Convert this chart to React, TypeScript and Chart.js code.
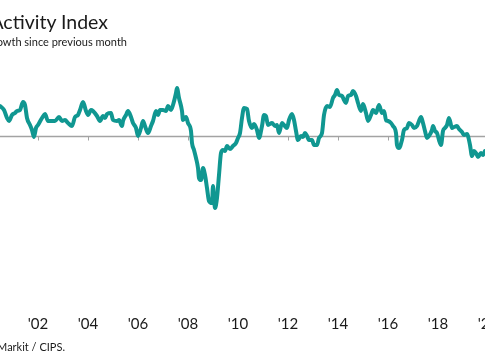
import React, { useEffect, useRef } from "react";
import { Chart, registerables } from "chart.js";

Chart.register(...registerables);

// Decimal year of each reading
const years = [
  2000.48, 2000.64, 2000.76, 2000.84, 2000.96, 2001.08, 2001.16, 2001.28, 2001.4, 2001.48,
  2001.56, 2001.68, 2001.76, 2001.84, 2001.92, 2002.0, 2002.16, 2002.28, 2002.4, 2002.56,
  2002.68, 2002.84, 2002.96, 2003.08, 2003.2, 2003.36, 2003.48, 2003.6, 2003.68, 2003.8,
  2003.92, 2004.0, 2004.12, 2004.2, 2004.36, 2004.48, 2004.6, 2004.68, 2004.76, 2004.92,
  2005.0, 2005.16, 2005.24, 2005.36, 2005.4, 2005.52, 2005.6, 2005.72, 2005.8, 2005.92,
  2006.0, 2006.12, 2006.2, 2006.28, 2006.4, 2006.52, 2006.6, 2006.72, 2006.8, 2006.88,
  2007.0, 2007.12, 2007.2, 2007.32, 2007.4, 2007.52, 2007.56, 2007.64, 2007.76, 2007.8,
  2007.92, 2008.0, 2008.12, 2008.16, 2008.24, 2008.32, 2008.4, 2008.44, 2008.52, 2008.6,
  2008.68, 2008.76, 2008.84, 2008.96, 2009.0, 2009.04, 2009.08, 2009.16, 2009.24, 2009.32,
  2009.4, 2009.48, 2009.56, 2009.68, 2009.8, 2009.92, 2010.0, 2010.08, 2010.16, 2010.24,
  2010.36, 2010.44, 2010.56, 2010.64, 2010.76, 2010.84, 2010.96, 2011.04, 2011.12, 2011.2,
  2011.36, 2011.48, 2011.56, 2011.64, 2011.76, 2011.84, 2011.96, 2012.04, 2012.16, 2012.24,
  2012.32, 2012.4, 2012.52, 2012.6, 2012.68, 2012.76, 2012.84, 2012.96, 2013.04, 2013.16,
  2013.24, 2013.36, 2013.44, 2013.56, 2013.68, 2013.8, 2013.88, 2013.96, 2014.04, 2014.16,
  2014.24, 2014.32, 2014.4, 2014.52, 2014.6, 2014.72, 2014.8, 2014.92, 2015.0, 2015.12,
  2015.2, 2015.32, 2015.4, 2015.52, 2015.64, 2015.76, 2015.84, 2015.92, 2016.0, 2016.12,
  2016.2, 2016.32, 2016.36, 2016.44, 2016.56, 2016.64, 2016.76, 2016.84, 2016.96, 2017.04,
  2017.16, 2017.24, 2017.32, 2017.4, 2017.48, 2017.56, 2017.64, 2017.76, 2017.8, 2017.88,
  2017.96, 2018.04, 2018.12, 2018.2, 2018.28, 2018.36, 2018.44, 2018.56, 2018.64, 2018.76,
  2018.84, 2018.96, 2019.04, 2019.16, 2019.2, 2019.28, 2019.36, 2019.44, 2019.52, 2019.6,
  2019.72, 2019.8, 2019.88,
];

// Index value of each reading (50 = no change)
const activityIndex = [
  56.0, 55.2, 53.6, 53.0, 54.2, 54.6, 55.0, 55.2, 56.8, 56.2,
  53.6, 52.2, 51.2, 49.8, 51.6, 52.2, 53.6, 54.4, 53.0, 53.0,
  53.0, 53.8, 53.0, 53.2, 52.6, 52.0, 53.8, 54.2, 55.2, 56.8,
  55.0, 54.2, 55.2, 55.0, 54.0, 53.0, 54.0, 53.6, 54.4, 54.6,
  53.2, 53.0, 53.2, 52.0, 53.0, 54.2, 55.0, 53.8, 52.6, 51.6,
  50.0, 51.6, 53.0, 52.0, 50.6, 52.0, 53.0, 55.0, 54.2, 55.2,
  55.2, 55.0, 56.0, 55.2, 56.2, 58.6, 59.6, 57.6, 55.0, 53.2,
  53.8, 52.6, 51.0, 48.6, 47.2, 45.6, 43.6, 41.6, 41.2, 43.6,
  42.2, 39.6, 37.0, 36.6, 40.0, 37.6, 35.6, 37.6, 42.2, 46.6,
  47.2, 47.0, 48.0, 47.4, 48.0, 48.6, 49.6, 50.6, 53.6, 55.6,
  55.4, 53.0, 51.6, 52.4, 51.2, 49.6, 52.0, 54.2, 54.0, 52.2,
  52.6, 52.0, 52.2, 50.6, 52.6, 52.2, 51.6, 53.2, 54.4, 53.2,
  51.0, 49.2, 50.0, 49.8, 50.6, 50.0, 49.2, 49.2, 48.2, 48.2,
  49.6, 50.6, 54.2, 56.0, 55.8, 57.6, 58.2, 59.2, 58.2, 58.0,
  57.2, 56.6, 58.0, 58.2, 59.0, 58.0, 56.6, 55.0, 56.4, 54.6,
  53.0, 54.2, 55.2, 54.6, 56.2, 54.6, 55.0, 53.2, 53.0, 52.6,
  52.0, 50.6, 48.2, 47.6, 49.2, 51.2, 51.6, 52.6, 52.2, 51.6,
  52.0, 53.0, 53.8, 52.6, 51.0, 49.6, 50.0, 51.2, 52.0, 51.0,
  50.6, 49.2, 48.2, 51.0, 51.6, 52.2, 53.6, 51.6, 51.8, 52.0,
  51.4, 50.8, 50.2, 50.4, 50.0, 48.2, 46.0, 47.0, 46.6, 45.8,
  46.6, 46.2, 47.0,
];

const tickYears = [2002, 2004, 2006, 2008, 2010, 2012, 2014, 2016, 2018, 2020];
const NEUTRAL = 50;

const TITLE = "UK Services PMI Business Activity Index";
const SUBTITLE = "sa, >50 = growth since previous month";
const SOURCE = "Source: IHS Markit / CIPS.";

const CANVAS_W = 540;
const CANVAS_H = 360;
const X_MIN = 2000.48;
const X_MAX = X_MIN + CANVAS_W / 25;

export default function App() {
  const ref = useRef<HTMLCanvasElement | null>(null);

  useEffect(() => {
    const canvas = ref.current;
    if (!canvas) return;
    const zeroLine = {
      id: "zeroLine",
      beforeDatasetsDraw(chart: any) {
        const { ctx, chartArea, scales } = chart;
        const y = Math.round(scales.y.getPixelForValue(NEUTRAL)) + 0.5;
        ctx.save();
        ctx.strokeStyle = "#a3a3a3";
        ctx.lineWidth = 1.5;
        ctx.beginPath();
        ctx.moveTo(chartArea.left, y);
        ctx.lineTo(chartArea.right, y);
        ctx.stroke();
        ctx.lineWidth = 1;
        ctx.beginPath();
        scales.x.ticks.forEach((t: any) => {
          const x = Math.round(scales.x.getPixelForValue(t.value)) + 0.5;
          ctx.moveTo(x, y);
          ctx.lineTo(x, y + 4);
        });
        ctx.stroke();
        ctx.restore();
      },
    };

    const chart = new Chart(canvas, {
      type: "line",
      data: {
        datasets: [
          {
            data: years.map((x, i) => ({ x, y: activityIndex[i] })),
            borderColor: "#109791",
            borderWidth: 4,
            pointRadius: 0,
            cubicInterpolationMode: "monotone",
            borderJoinStyle: "round",
            borderCapStyle: "round",
            fill: false,
          },
        ],
      },
      options: {
        responsive: false,
        animation: false,
        events: [],
        layout: { padding: { top: 56, bottom: 18, left: 0, right: 0 } },
        plugins: {
          legend: { display: false },
          tooltip: { enabled: false },
          title: { display: false },
        },
        scales: {
          x: {
            type: "linear",
            min: X_MIN,
            max: X_MAX,
            grid: { display: false, drawTicks: false },
            border: { display: false },
            afterBuildTicks: (s: any) => {
              s.ticks = tickYears.map((v) => ({ value: v }));
            },
            ticks: {
              autoSkip: false,
              maxRotation: 0,
              padding: 9,
              color: "#1a1a1a",
              font: { family: "Lato", size: 15 },
              callback: (v: any) => "'" + String(v).slice(2),
            },
          },
          y: { display: false, min: 16, max: 66 },
        },
      },
      plugins: [zeroLine],
    } as any);
    return () => chart.destroy();
  }, []);

  const textBase: React.CSSProperties = {
    position: "absolute",
    whiteSpace: "nowrap",
    textAlign: "right",
    fontFamily: "Lato, sans-serif",
    color: "#1a1a1a",
  };

  return (
    <div
      style={{
        position: "fixed",
        left: 0,
        top: 0,
        width: 485,
        height: 360,
        overflow: "hidden",
        background: "#fff",
      }}
    >
      <canvas
        ref={ref}
        width={CANVAS_W}
        height={CANVAS_H}
        style={{ position: "absolute", left: 0, top: 0, width: CANVAS_W, height: CANVAS_H }}
      />
      <div style={{ ...textBase, right: 377, top: 10, fontSize: 19.5, lineHeight: "23.4px" }}>{TITLE}</div>
      <div style={{ ...textBase, right: 358, top: 35, fontSize: 11, lineHeight: "13.2px" }}>{SUBTITLE}</div>
      <div style={{ ...textBase, right: 420, top: 340, fontSize: 11, lineHeight: "13.2px" }}>{SOURCE}</div>
    </div>
  );
}
